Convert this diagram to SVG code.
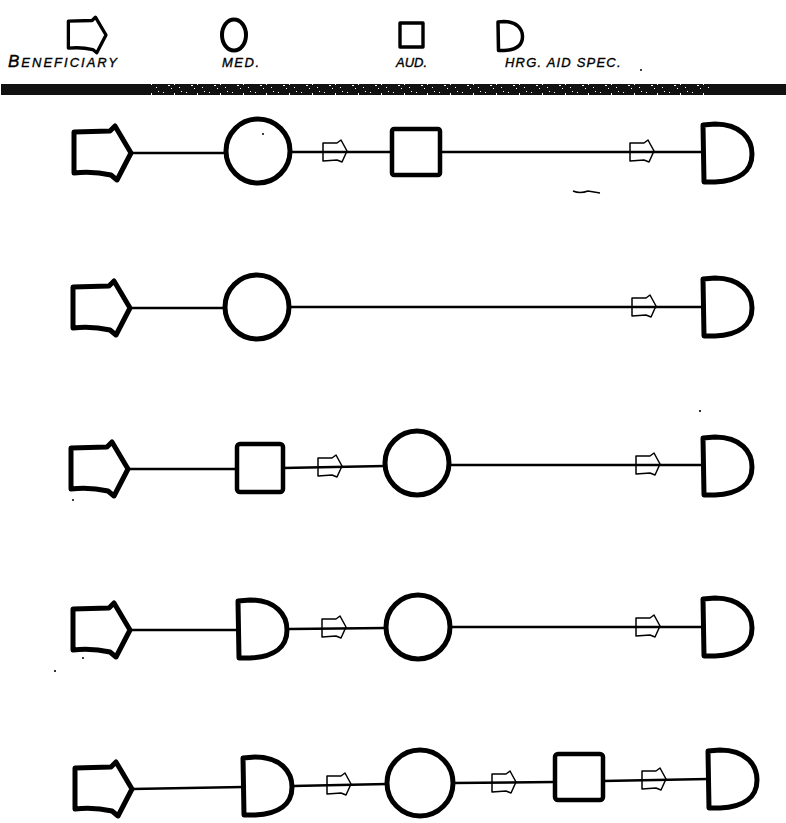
<svg xmlns="http://www.w3.org/2000/svg" width="786" height="823" viewBox="0 0 786 823">
  <style>
    .node { fill: none; stroke: #000; stroke-width: 5; stroke-linejoin: round; stroke-linecap: round; }
    .sq { fill: none; stroke: #000; stroke-width: 4.5; stroke-linejoin: round; }
    .wire { stroke: #000; stroke-width: 2.6; fill: none; stroke-linecap: round; }
    .flow { fill: none; stroke: #000; stroke-width: 1.5; stroke-linejoin: round; }
    .lbl { font-family: "Liberation Sans", Arial, sans-serif; font-style: italic; font-size: 13px; letter-spacing: 1.5px; fill: #000; stroke: #000; stroke-width: 0.35; }
    .big { font-size: 17px; }
    .speck { fill: #000; }
  </style>
  <defs>
    <!-- beneficiary: house-shaped pointer, origin at the tip -->
    <path id="benef" d="M-57,-21 L-21,-22 L-16,-27 L0,0 L-14,27 L-20,22 Q-38,18 -57,20 Z"/>
    <!-- hearing aid specialist: D shape, origin at middle of the flat side -->
    <path id="dee" d="M0,-28 L12,-29 C38,-29 49,-14 49,1 C49,18 36,28 12,29 L1,29 Z"/>
    <!-- direction marker, origin at left middle -->
    <path id="dir" d="M0,-9 L14,-9 L18,-12 L24,-1 L19,10 L14,8 L0,9 Z"/>
    <pattern id="grain" width="23" height="10" patternUnits="userSpaceOnUse">
      <rect x="2" y="2" width="1" height="1" fill="#fff"/>
      <rect x="7" y="5" width="2" height="1" fill="#fff"/>
      <rect x="13" y="3" width="1" height="2" fill="#fff"/>
      <rect x="18" y="7" width="1" height="1" fill="#fff"/>
      <rect x="10" y="8" width="1" height="1" fill="#fff"/>
      <rect x="20" y="1" width="1" height="1" fill="#fff"/>
    </pattern>
  </defs>

  <!-- key -->
  <g id="key">
    <g id="key-beneficiary">
      <use href="#benef" class="node" transform="translate(106,35) scale(0.66)"/>
      <text class="lbl" x="8" y="67" style="letter-spacing:2px"><tspan class="big">B</tspan>ENEFICIARY</text>
    </g>
    <g id="key-med">
      <ellipse class="node" cx="234" cy="35" rx="12" ry="15.5" style="stroke-width:4"/>
      <text class="lbl" x="222" y="67">MED.</text>
    </g>
    <g id="key-aud">
      <rect class="sq" x="400" y="23" width="23" height="24" style="stroke-width:3.4"/>
      <text class="lbl" x="396" y="67" style="letter-spacing:0px">AUD.</text>
    </g>
    <g id="key-hrg">
      <use href="#dee" class="node" transform="translate(498,36) scale(0.5)" style="stroke-width:7"/>
      <text class="lbl" x="505" y="67" style="letter-spacing:1.2px">HRG. AID SPEC.</text>
    </g>
    <circle class="speck" cx="641" cy="70" r="1"/>
  </g>

  <!-- heavy rule under the key -->
  <g id="rule">
    <rect x="1" y="84" width="785" height="11" fill="#111"/>
    <rect x="150" y="84" width="560" height="11" fill="url(#grain)"/>
  </g>

  <!-- connectors -->
  <g id="connectors">
    <!-- row 1 -->
    <path class="wire" d="M131,153 L226,153 M290,152 L392,152 M440,152 L703,152"/>
    <use href="#dir" class="flow" x="323" y="152"/>
    <use href="#dir" class="flow" x="630" y="152"/>
    <!-- row 2 -->
    <path class="wire" d="M130,308 L225,308 M289,307 L703,307"/>
    <use href="#dir" class="flow" x="632" y="307"/>
    <!-- row 3 -->
    <path class="wire" d="M128,469 L237,469 M283,468 L385,466 M449,465 L703,465"/>
    <use href="#dir" class="flow" x="318" y="467"/>
    <use href="#dir" class="flow" x="636" y="465"/>
    <!-- row 4 -->
    <path class="wire" d="M130,630 L238,630 M290,629 L386,628 M450,627 L703,627"/>
    <use href="#dir" class="flow" x="322" y="628"/>
    <use href="#dir" class="flow" x="636" y="627"/>
    <!-- row 5 -->
    <path class="wire" d="M132,789 L243,787 M293,786 L387,784 M453,783 L555,782 M603,781 L708,779"/>
    <use href="#dir" class="flow" x="327" y="785"/>
    <use href="#dir" class="flow" x="492" y="783"/>
    <use href="#dir" class="flow" x="642" y="780"/>
  </g>

  <!-- row 1 -->
  <g id="r1-beneficiary"><use href="#benef" class="node" x="131" y="153"/></g>
  <g id="r1-med"><circle class="node" cx="258" cy="151" r="32"/></g>
  <g id="r1-aud"><rect class="sq" x="392" y="129" width="48" height="46" rx="2"/></g>
  <g id="r1-hrg"><use href="#dee" class="node" x="703" y="153"/></g>

  <!-- row 2 -->
  <g id="r2-beneficiary"><use href="#benef" class="node" x="130" y="308"/></g>
  <g id="r2-med"><circle class="node" cx="257" cy="307" r="32"/></g>
  <g id="r2-hrg"><use href="#dee" class="node" x="703" y="307"/></g>

  <!-- row 3 -->
  <g id="r3-beneficiary"><use href="#benef" class="node" x="128" y="469"/></g>
  <g id="r3-aud"><rect class="sq" x="237" y="444" width="46" height="48" rx="3"/></g>
  <g id="r3-med"><circle class="node" cx="417" cy="463" r="32"/></g>
  <g id="r3-hrg"><use href="#dee" class="node" x="703" y="466"/></g>

  <!-- row 4 -->
  <g id="r4-beneficiary"><use href="#benef" class="node" x="130" y="630"/></g>
  <g id="r4-hrg-a"><use href="#dee" class="node" x="238" y="629"/></g>
  <g id="r4-med"><circle class="node" cx="418" cy="627" r="32"/></g>
  <g id="r4-hrg-b"><use href="#dee" class="node" x="703" y="627"/></g>

  <!-- row 5 -->
  <g id="r5-beneficiary"><use href="#benef" class="node" x="132" y="789"/></g>
  <g id="r5-hrg-a"><use href="#dee" class="node" x="243" y="786"/></g>
  <g id="r5-med"><circle class="node" cx="420" cy="783" r="33"/></g>
  <g id="r5-aud"><rect class="sq" x="555" y="754" width="48" height="46" rx="3"/></g>
  <g id="r5-hrg-b"><use href="#dee" class="node" x="708" y="779"/></g>

  <!-- loose specks -->
  <g id="specks">
    <circle class="speck" cx="263" cy="134" r="1"/>
    <path d="M573,191 Q580,194 588,191 L600,193" stroke="#000" stroke-width="1.4" fill="none"/>
    <circle class="speck" cx="700" cy="411" r="1.1"/>
    <circle class="speck" cx="73" cy="500" r="1"/>
    <circle class="speck" cx="83" cy="658" r="1"/>
    <circle class="speck" cx="55" cy="671" r="1.1"/>
  </g>
</svg>
